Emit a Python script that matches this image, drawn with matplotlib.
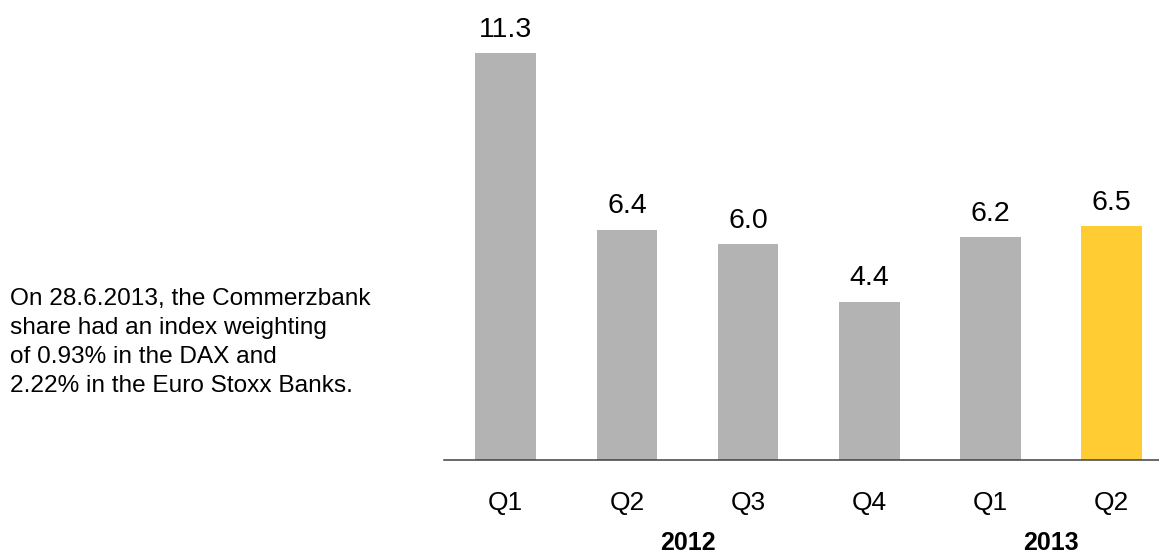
import matplotlib.pyplot as plt

plt.rcParams['font.family'] = ['Liberation Sans', 'DejaVu Sans']

# data
quarters = ['Q1', 'Q2', 'Q3', 'Q4', 'Q1', 'Q2']
values = [11.3, 6.4, 6.0, 4.4, 6.2, 6.5]
years = ['2012', '2013']
year_pos = [1.5, 4.5]
note = ('On 28.6.2013, the Commerzbank\n'
        'share had an index weighting\n'
        'of 0.93% in the DAX and\n'
        '2.22% in the Euro Stoxx Banks.')

colors = ['#b3b3b3'] * 5 + ['#ffcc33']

fig = plt.figure(figsize=(11.59, 5.54), dpi=100)
ax = fig.add_axes([0.383, 0.1688, 0.617, 0.8267])

x = range(len(values))
ax.bar(x, values, width=0.5, color=colors)
ax.set_xlim(-0.51, 5.39)
ax.set_ylim(0, 12.7)

for s in ['top', 'right', 'left']:
    ax.spines[s].set_visible(False)
ax.spines['bottom'].set_color('#404040')
ax.spines['bottom'].set_linewidth(1.1)
ax.set_xticks([])
ax.set_yticks([])

# value labels above bars
for i, v in enumerate(values):
    ax.annotate(f'{v:.1f}', xy=(i, v), xytext=(0, 11.8), textcoords='offset points',
                ha='center', va='baseline', fontsize=20.5)

# quarter labels
for i, q in enumerate(quarters):
    ax.annotate(q, xy=(i, 0), xytext=(0, -35.6), textcoords='offset points',
                ha='center', va='baseline', fontsize=19, annotation_clip=False)

# year labels
for p, yr in zip(year_pos, years):
    ax.annotate(yr, xy=(p, 0), xytext=(0, -64.4), textcoords='offset points',
                ha='center', va='baseline', fontsize=18, fontweight='bold',
                annotation_clip=False)

fig.text(10 / 1159, 1 - 391.7 / 554, note, ha='left', va='baseline',
         fontsize=17.6, linespacing=1.4)

fig.savefig('out.png', dpi=100)
